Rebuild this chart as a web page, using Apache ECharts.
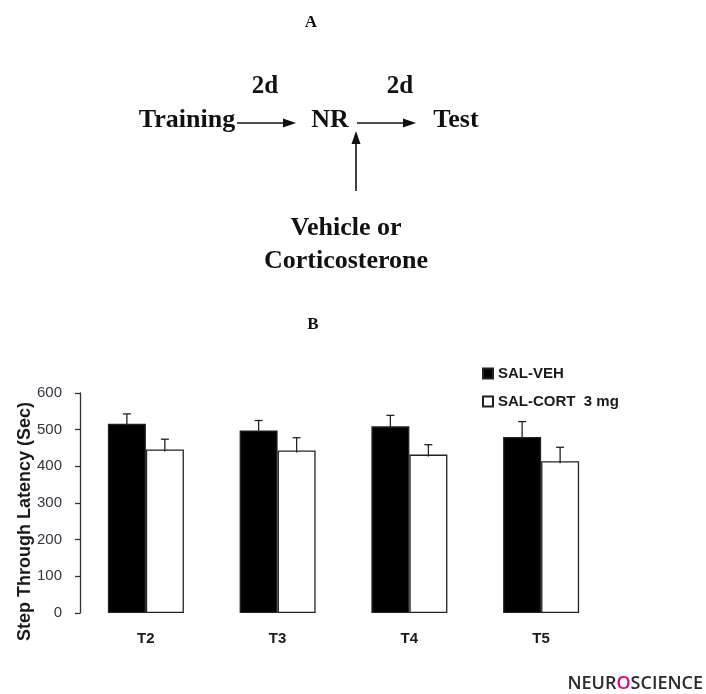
<!DOCTYPE html>
<html>
<head>
<meta charset="utf-8">
<script src="https://cdn.jsdelivr.net/npm/echarts@6/dist/echarts.min.js"></script>
<style>
html,body{margin:0;padding:0;background:#fff;}
#chart{width:706px;height:694px;}
</style>
</head>
<body>
<div id="chart"></div>
<script>
// ---- data ----
var categories = ['T2', 'T3', 'T4', 'T5'];
var seriesNames = ['SAL-VEH', 'SAL-CORT  3 mg'];
var vehMeans = [516, 498, 509, 480];
var vehErrors = [27, 27, 30, 42];
var cortMeans = [446, 443, 432, 414];
var cortErrors = [28, 35, 27, 38];
var yTicks = [0, 100, 200, 300, 400, 500, 600];

var chart = echarts.init(document.getElementById('chart'), null, {renderer: 'canvas'});

function errData(means, errs) {
  return means.map(function (m, i) { return [i, m, errs[i]]; });
}

function errRender(offset) {
  return function (params, api) {
    var c = api.value(0), m = api.value(1), e = api.value(2);
    var base = api.coord([c, m]);
    var top = api.coord([c, m + e]);
    var x = base[0] + offset;
    var st = {stroke: '#222', lineWidth: 1.3};
    return {
      type: 'group',
      children: [
        {type: 'line', shape: {x1: x, y1: base[1] + 2, x2: x, y2: top[1]}, style: st},
        {type: 'line', shape: {x1: x - 4, y1: top[1], x2: x + 4, y2: top[1]}, style: st}
      ]
    };
  };
}

var serif = '"Liberation Serif", "Times New Roman", serif';
function txt(t, x, y, size) {
  return {
    type: 'text', x: x, y: y,
    style: {text: t, font: 'bold ' + size + 'px ' + serif, fill: '#111',
            textAlign: 'center', textVerticalAlign: 'middle'}
  };
}

var sans = 'Arial, "Liberation Sans", sans-serif';

var option = {
  backgroundColor: '#fff',
  animation: false,
  grid: {left: 80, right: 99, top: 393, bottom: 81, containLabel: false, outerBoundsMode: 'none'},
  legend: {
    data: seriesNames,
    orient: 'vertical',
    left: 477, top: 361,
    icon: 'rect',
    itemWidth: 10, itemHeight: 10, itemGap: 13,
    textStyle: {fontFamily: sans, fontWeight: 'bold', fontSize: 15, color: '#1a1a1a'}
  },
  xAxis: {
    type: 'category',
    data: categories,
    axisLine: {show: false},
    axisTick: {show: false},
    axisLabel: {margin: 18, fontFamily: sans, fontWeight: 'bold', fontSize: 15, color: '#1a1a1a'}
  },
  yAxis: {
    type: 'value',
    min: yTicks[0], max: yTicks[yTicks.length - 1], interval: 100,
    name: 'Step Through Latency (Sec)',
    nameLocation: 'middle',
    nameGap: 46,
    nameMoveOverlap: false,
    nameTextStyle: {fontFamily: sans, fontWeight: 'bold', fontSize: 18, color: '#1a1a1a', padding: [0, 37, 0, 0]},
    axisLine: {show: true, lineStyle: {color: '#333', width: 1.3}},
    axisTick: {show: true, inside: false, length: 5, lineStyle: {color: '#333', width: 1.3}},
    axisLabel: {margin: 18, fontFamily: sans, fontSize: 15, color: '#3a3040'},
    splitLine: {show: false}
  },
  series: [
    {
      name: seriesNames[0], type: 'bar', data: vehMeans,
      barWidth: 38, barGap: '0%',
      itemStyle: {color: '#000', borderColor: '#222', borderWidth: 1.3}
    },
    {
      name: seriesNames[1], type: 'bar', data: cortMeans,
      barWidth: 38, barGap: '0%',
      itemStyle: {color: '#fff', borderColor: '#222', borderWidth: 1.3}
    },
    {
      type: 'custom', name: 'veh-err', renderItem: errRender(-19),
      data: errData(vehMeans, vehErrors), z: 5, silent: true
    },
    {
      type: 'custom', name: 'cort-err', renderItem: errRender(19),
      data: errData(cortMeans, cortErrors), z: 5, silent: true
    }
  ],
  graphic: [
    txt('A', 311, 23, 17),
    txt('2d', 265, 87, 25),
    txt('2d', 400, 87, 25),
    txt('Training', 187, 120, 26),
    txt('NR', 330, 120, 26),
    txt('Test', 456, 120, 26),
    txt('Vehicle or', 346, 228, 26),
    txt('Corticosterone', 346, 261, 26),
    txt('B', 313, 325, 17),
    {type: 'line', shape: {x1: 237, y1: 123, x2: 285, y2: 123}, style: {stroke: '#111', lineWidth: 1.6}},
    {type: 'polygon', shape: {points: [[296, 123], [283, 118.5], [283, 127.5]]}, style: {fill: '#111'}},
    {type: 'line', shape: {x1: 357, y1: 123, x2: 405, y2: 123}, style: {stroke: '#111', lineWidth: 1.6}},
    {type: 'polygon', shape: {points: [[416, 123], [403, 118.5], [403, 127.5]]}, style: {fill: '#111'}},
    {type: 'line', shape: {x1: 356, y1: 191, x2: 356, y2: 142}, style: {stroke: '#111', lineWidth: 1.6}},
    {type: 'polygon', shape: {points: [[356, 131], [351.5, 144], [360.5, 144]]}, style: {fill: '#111'}},
    {
      type: 'text', right: 3, top: 675,
      style: {
        text: '{a|NEUR}{b|O}{a|SCIENCE}',
        rich: {
          a: {font: '600 18px "Open Sans", "DejaVu Sans", sans-serif', fill: '#2b2b2b'},
          b: {font: '600 18px "Open Sans", "DejaVu Sans", sans-serif', fill: '#e6007e'}
        }
      }
    }
  ]
};
chart.setOption(option);
</script>
</body>
</html>
